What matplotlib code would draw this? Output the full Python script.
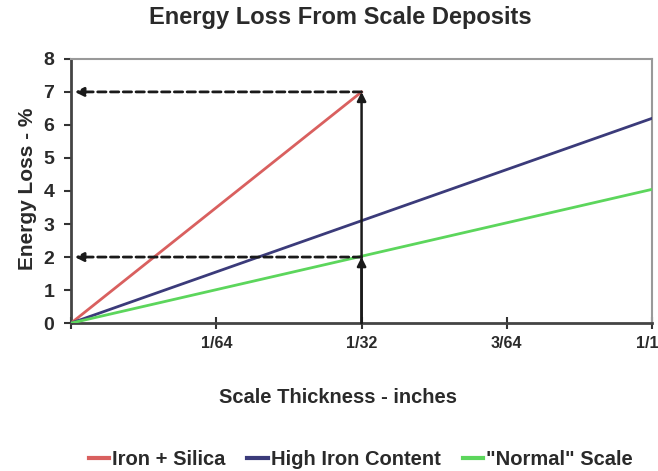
import matplotlib
matplotlib.use("Agg")
import matplotlib.pyplot as plt

fam = 'Liberation Sans'
plt.rcParams['font.family'] = [fam, 'DejaVu Sans']

x_vals = [0, 1/64, 1/32, 3/64, 1/16]
x_labels = ['', '1/64', '1/32', '3/64', '1/16']

series_names = ['Iron + Silica', 'High Iron Content', '"Normal" Scale']
series_x = [[0, 1/32], [0, 1/16], [0, 1/16]]
series_y = [[0, 7.0], [0, 6.2], [0, 4.05]]
colors = ['#d9605f', '#3b3b7a', '#5cd65c']

marks_y = [7, 2]
mark_x = 1/32

txt = '#2a2a2a'

fig = plt.figure(figsize=(6.58, 4.71), dpi=100)
ax = fig.add_axes([0.108, 0.314, 0.883, 0.561])

for xs, ys, c, n in zip(series_x, series_y, colors, series_names):
    ax.plot(xs, ys, color=c, lw=2, label=n, zorder=3)

for yv in marks_y:
    ax.annotate('', xy=(0.0004, yv), xytext=(mark_x, yv),
                arrowprops=dict(arrowstyle='-|>', linestyle=(0, (3, 1.6)), color='#1a1a1a', lw=2,
                                mutation_scale=13, shrinkA=0, shrinkB=0), zorder=4)
for yv in marks_y:
    ax.annotate('', xy=(mark_x, yv), xytext=(mark_x, 0),
                arrowprops=dict(arrowstyle='-|>', color='#1a1a1a', lw=1.8, mutation_scale=13,
                                shrinkA=0, shrinkB=0), zorder=4)

ax.set_xlim(0, 1/16)
ax.set_ylim(0, 8)
ax.set_xticks(x_vals)
ax.set_xticklabels(x_labels, fontsize=11.5, fontweight='bold', color=txt)
ax.set_yticks(range(0, 9))
ax.set_yticklabels([str(i) for i in range(9)], fontsize=14, fontweight='bold', color=txt)
ax.tick_params(axis='x', direction='inout', length=8, width=1.5, color='#333333', pad=5)
ax.tick_params(axis='y', direction='out', length=5, width=1.5, color='#333333', pad=7)
for s in ['left', 'bottom']:
    ax.spines[s].set_color('#444444')
    ax.spines[s].set_linewidth(2)
for s in ['top', 'right']:
    ax.spines[s].set_color('#999999')
    ax.spines[s].set_linewidth(1.5)

fig.text(0.517, 0.962, 'Energy Loss From Scale Deposits', ha='center', va='center',
         fontsize=17, fontweight='bold', color=txt)
fig.text(0.042, 0.6, 'Energy Loss - %', ha='center', va='center', rotation=90,
         fontsize=15, fontweight='bold', color=txt)
fig.text(0.514, 0.155, 'Scale Thickness - inches', ha='center', va='center',
         fontsize=14.5, fontweight='bold', color=txt)

leg = fig.legend(loc='center', bbox_to_anchor=(0.548, 0.024), ncol=3, frameon=False,
                 prop={'family': fam, 'weight': 'bold', 'size': 14.5}, handlelength=1.0,
                 handletextpad=0.15, columnspacing=1.1)
for h in leg.legend_handles:
    h.set_linewidth(3)
for t in leg.get_texts():
    t.set_color(txt)

fig.savefig('out.png', dpi=100)
